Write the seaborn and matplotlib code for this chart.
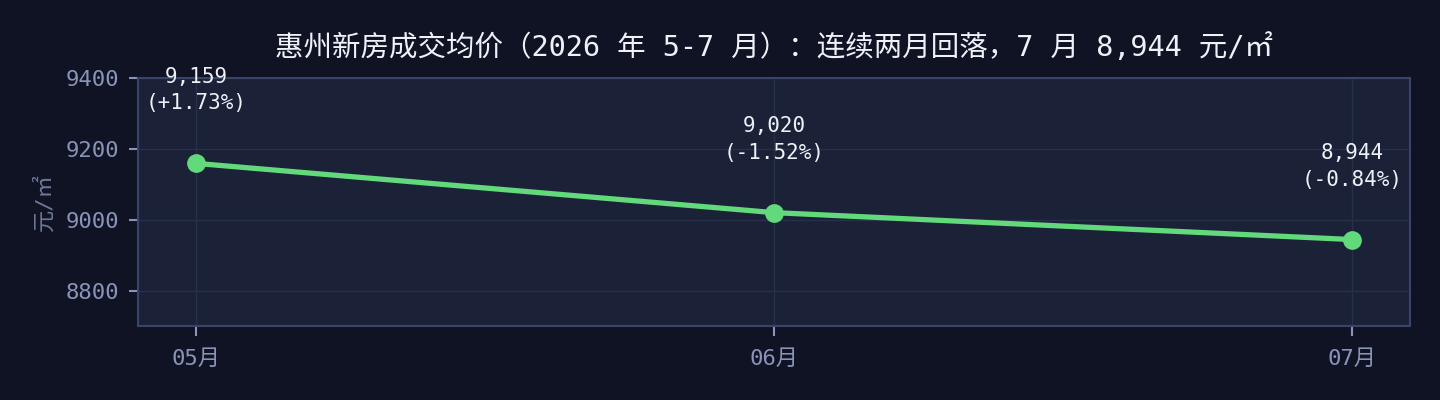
import matplotlib
matplotlib.use("Agg")
import matplotlib.pyplot as plt
import seaborn as sns
import pandas as pd

months = ["05月", "06月", "07月"]
prices = [9159, 9020, 8944]
changes = ["+1.73%", "-1.52%", "-0.84%"]
title = "惠州新房成交均价（2026 年 5-7 月）：连续两月回落，7 月 8,944 元/㎡"

sns.set_theme(style="dark")
# mono latin + CJK fallback, close to the half-width look of the original
plt.rcParams['font.family'] = ['DejaVu Sans Mono', 'Noto Sans CJK SC']
plt.rcParams['axes.unicode_minus'] = False

fig_bg = "#0f1324"
ax_bg = "#1b2238"
green = "#62d97a"
tick_col = "#8a93b8"

df = pd.DataFrame({"month": months, "price": prices})

fig, ax = plt.subplots(figsize=(14.4, 4), dpi=100)
fig.patch.set_facecolor(fig_bg)
ax.set_facecolor(ax_bg)

sns.lineplot(data=df, x="month", y="price", ax=ax, color=green, linewidth=3.8,
             marker="o", markersize=13.5, markeredgewidth=0, sort=False)

for i, (p, c) in enumerate(zip(prices, changes)):
    ax.annotate(f"{p:,}\n({c})", xy=(i, p), xytext=(0, 36), textcoords="offset points",
                ha="center", va="bottom", color="#eef1f8", fontsize=15, linespacing=1.4)

ax.set_xlim(-0.1, 2.1)
ax.set_ylim(8700, 9400)
ax.set_yticks([8800, 9000, 9200, 9400])
ax.set_xlabel("")
ax.set_ylabel("元/㎡", color="#6f7898", fontsize=16, labelpad=8)
ax.set_title(title, color="#eef1f8", fontsize=20.5, pad=16)

ax.grid(True, color="#28304a", linewidth=0.9)
for s in ax.spines.values():
    s.set_color("#3a4468")
    s.set_linewidth(1.5)
ax.tick_params(axis="both", colors=tick_col, labelsize=16, length=6.5, width=1.5,
               pad=7, bottom=True, left=True, labelcolor=tick_col)
ax.tick_params(axis="x", length=7.5, pad=9)

fig.subplots_adjust(left=0.096, right=0.979, top=0.805, bottom=0.185)
fig.savefig("out.png", facecolor=fig_bg)
